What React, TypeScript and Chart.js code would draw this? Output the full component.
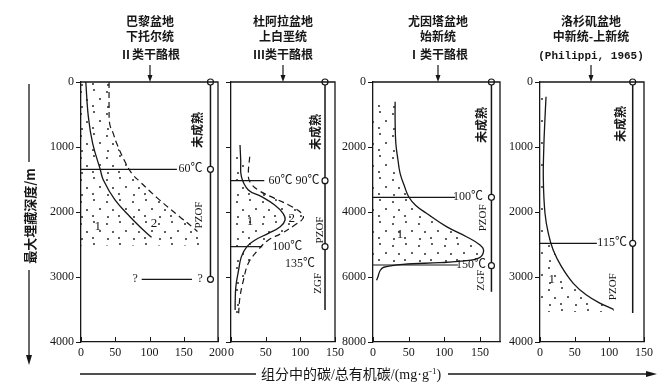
import React, { useEffect, useRef } from 'react';
import { Chart, registerables } from 'chart.js';
Chart.register(...registerables);

const INK = '#161616';
const CW = 672;
const CH = 385;
const SERIF = '"Liberation Serif", "Noto Sans CJK SC", serif';

// ---------- Panel 1: 巴黎盆地 下托尔统 II类干酪根 ----------
const p1XTicks = [0, 50, 100, 150, 200];
const p1YTicks = [0, 1000, 2000, 3000, 4000];
const p1SolidX = [7, 10.7, 17, 28, 32.6, 49.6, 71.5, 91, 103];
const p1SolidY = [0, 533, 943, 1343, 1508, 1815, 2072, 2277, 2390];
const p1DashX = [41, 41, 42, 47, 52, 63, 74, 86, 112, 144, 162, 170];
const p1DashY = [0, 400, 650, 790, 943, 1200, 1405, 1533, 1790, 2072, 2226, 2300];
const p1ShadeX = [...p1DashX, 176];
const p1ShadeY = [...p1DashY, 2520];
const p1CircX = [189, 189, 189];
const p1CircY = [0, 1343, 3035];

// ---------- Panel 2: 杜阿拉盆地 上白垩统 III类干酪根 ----------
const p2XTicks = [0, 50, 100, 150];
const p2YTicks = [0, 1000, 2000, 3000, 4000];
const p2SolidX = [13, 14, 15, 25, 44, 63, 75, 78, 71, 54, 35, 23, 15, 11, 7, 6, 6];
const p2SolidY = [969, 1200, 1457, 1661, 1764, 1892, 2020, 2123, 2226, 2328, 2430, 2533, 2687, 2892, 3149, 3405, 3508];
const p2DashX = [27, 25, 27, 39, 63, 88, 102, 104, 92, 73, 54, 39, 25, 18, 13, 11];
const p2DashY = [1149, 1405, 1530, 1661, 1790, 1918, 2020, 2097, 2200, 2328, 2430, 2585, 2790, 3046, 3303, 3559];
const p2ShadeX = [...p2DashX, 11];
const p2ShadeY = [...p2DashY, 3620];
const p2CircX = [135.6, 135.6, 135.6];
const p2CircY = [0, 1518, 2533];

// ---------- Panel 3: 尤因塔盆地 始新统 I类干酪根 ----------
const p3XTicks = [0, 50, 100, 150];
const p3YTicks = [0, 2000, 4000, 6000, 8000];
const p3SolidX = [31, 31, 32, 35, 38, 44, 50, 60, 75, 103, 131, 150, 155, 148, 120, 94, 42, 15, 10, 7, 5];
const p3SolidY = [606, 1200, 1887, 2400, 2810, 3200, 3530, 3800, 4040, 4451, 4760, 5015, 5200, 5420, 5520, 5560, 5610, 5700, 5800, 5990, 6100];
const p3ShadeX = p3SolidX.slice(0, 17);
const p3ShadeY = p3SolidY.slice(0, 17);
const p3CircX = [166, 166, 166];
const p3CircY = [0, 3548, 5650];

// ---------- Panel 4: 洛杉矶盆地 中新统-上新统 ----------
const p4XTicks = [0, 50, 100, 150];
const p4YTicks = [0, 1000, 2000, 3000, 4000];
const p4SolidX = [8.7, 7, 5.5, 4.8, 7.2, 12, 19, 31, 48, 67, 87, 106];
const p4SolidY = [226, 600, 1000, 1500, 2020, 2328, 2585, 2841, 3097, 3277, 3405, 3497];
const p4ShadeX = [...p4SolidX, 106];
const p4ShadeY = [...p4SolidY, 3540];
const p4CircX = [133.7, 133.7];
const p4CircY = [0, 2482];

type Txt = { t: string; x: number; y: number; rot?: boolean; size?: number; bold?: boolean };
type HLine = { x0: number; x1: number; y: number };
type PanelCfg = {
  padL: number;
  padR: number;
  xMax: number;
  yMax: number;
  xTicks: number[];
  yTicks: number[];
  yLabels: boolean;
  solid: [number[], number[]];
  dashed?: [number[], number[]];
  shade: [number[], number[]];
  hlines: HLine[];
  vline: { x: number; y0: number; y1: number };
  circles: [number[], number[]];
  texts: Txt[];
};

const panels: PanelCfg[] = [
  {
    padL: 41, padR: CW - 218, xMax: 200, yMax: 4000,
    xTicks: p1XTicks, yTicks: p1YTicks, yLabels: true,
    solid: [p1SolidX, p1SolidY], dashed: [p1DashX, p1DashY], shade: [p1ShadeX, p1ShadeY],
    hlines: [{ x0: 0, x1: 140, y: 1343 }, { x0: 88.6, x1: 162, y: 3035 }],
    vline: { x: 189, y0: 0, y1: 3035 },
    circles: [p1CircX, p1CircY],
    texts: [
      { t: '60℃', x: 160, y: 1343 },
      { t: '?', x: 79, y: 3035 },
      { t: '?', x: 174, y: 3035 },
      { t: '1', x: 24.5, y: 2226, size: 13 },
      { t: '2', x: 106.6, y: 2185, size: 13 },
      { t: '未成熟', x: 172.6, y: 738, rot: true, bold: true },
      { t: 'PZOF', x: 172.6, y: 2046, rot: true, size: 11 },
    ],
  },
  {
    padL: 191, padR: CW - 335, xMax: 150, yMax: 4000,
    xTicks: p2XTicks, yTicks: p2YTicks, yLabels: false,
    solid: [p2SolidX, p2SolidY], dashed: [p2DashX, p2DashY], shade: [p2ShadeX, p2ShadeY],
    hlines: [{ x0: 0, x1: 48, y: 1518 }, { x0: 0, x1: 45, y: 2533 }],
    vline: { x: 135.6, y0: 0, y1: 3508 },
    circles: [p2CircX, p2CircY],
    texts: [
      { t: '60℃ 90℃', x: 91, y: 1518 },
      { t: '100℃', x: 81, y: 2533 },
      { t: '135℃', x: 99.6, y: 2800 },
      { t: 'PZOF', x: 128, y: 2277, rot: true, size: 11 },
      { t: 'ZGF', x: 126, y: 3097, rot: true, size: 11 },
      { t: '未成熟', x: 124, y: 770, rot: true, bold: true },
      { t: '1', x: 27.4, y: 2150, size: 13 },
      { t: '2', x: 87.6, y: 2097, size: 13 },
    ],
  },
  {
    padL: 333, padR: CW - 500, xMax: 178, yMax: 8000,
    xTicks: p3XTicks, yTicks: p3YTicks, yLabels: true,
    solid: [p3SolidX, p3SolidY], shade: [p3ShadeX, p3ShadeY],
    hlines: [{ x0: 0, x1: 115, y: 3548 }, { x0: 0, x1: 119, y: 5630 }],
    vline: { x: 166, y0: 0, y1: 6450 },
    circles: [p3CircX, p3CircY],
    texts: [
      { t: '100℃', x: 133, y: 3548 },
      { t: '150℃', x: 137.5, y: 5630 },
      { t: 'PZOF', x: 155, y: 4180, rot: true, size: 11 },
      { t: 'ZGF', x: 152, y: 6100, rot: true, size: 11 },
      { t: '未成熟', x: 154, y: 1320, rot: true, bold: true },
      { t: '1', x: 38, y: 4710, size: 13 },
    ],
  },
  {
    padL: 500, padR: CW - 644, xMax: 150, yMax: 4000,
    xTicks: p4XTicks, yTicks: p4YTicks, yLabels: true,
    solid: [p4SolidX, p4SolidY], shade: [p4ShadeX, p4ShadeY],
    hlines: [{ x0: 0, x1: 82, y: 2482 }],
    vline: { x: 133.7, y0: 0, y1: 3554 },
    circles: [p4CircX, p4CircY],
    texts: [
      { t: '115℃', x: 104, y: 2482 },
      { t: 'PZOF', x: 106, y: 3150, rot: true, size: 11 },
      { t: '未成熟', x: 118, y: 646, rot: true, bold: true },
      { t: '1', x: 17, y: 3035, size: 13 },
    ],
  },
];

const pts = (xs: number[], ys: number[]) => xs.map((x, i) => ({ x, y: ys[i] }));

function makeDots(): CanvasPattern | string {
  const c = document.createElement('canvas');
  c.width = 26;
  c.height = 22;
  const g = c.getContext('2d');
  if (!g) return 'rgba(0,0,0,0.1)';
  g.fillStyle = '#1a1a1a';
  const dots = [[3, 4], [16, 2], [9, 12], [22, 11], [4, 19], [15, 18]];
  dots.forEach(([x, y]) => {
    g.beginPath();
    g.arc(x, y, 0.95, 0, Math.PI * 2);
    g.fill();
  });
  return g.createPattern(c, 'repeat') || 'rgba(0,0,0,0.1)';
}

function makeDeco(cfg: PanelCfg) {
  return {
    id: 'panelDeco',
    afterDraw(chart: any) {
      const { ctx, chartArea: a } = chart;
      const xs = chart.scales.x;
      const ys = chart.scales.y;
      ctx.save();
      ctx.strokeStyle = INK;
      ctx.lineWidth = 1.3;
      ctx.beginPath();
      ctx.moveTo(a.left, a.top);
      ctx.lineTo(a.right, a.top);
      ctx.lineTo(a.right, a.bottom);
      ctx.stroke();
      ctx.lineWidth = 1;
      ctx.beginPath();
      xs.ticks.forEach((t: any) => {
        const px = Math.round(xs.getPixelForValue(t.value)) + 0.5;
        ctx.moveTo(px, a.bottom);
        ctx.lineTo(px, a.bottom - 5);
      });
      ctx.stroke();
      ctx.fillStyle = INK;
      cfg.texts.forEach((tx) => {
        const px = xs.getPixelForValue(tx.x);
        const py = ys.getPixelForValue(tx.y);
        ctx.font = `${tx.bold ? 'bold ' : ''}${tx.size || 12}px ${SERIF}`;
        ctx.textAlign = 'center';
        ctx.textBaseline = 'middle';
        if (tx.rot) {
          ctx.save();
          ctx.translate(px, py);
          ctx.rotate(-Math.PI / 2);
          ctx.fillText(tx.t, 0, 0);
          ctx.restore();
        } else {
          ctx.fillText(tx.t, px, py);
        }
      });
      ctx.restore();
    },
  };
}

function Panel({ cfg }: { cfg: PanelCfg }) {
  const ref = useRef<HTMLCanvasElement | null>(null);
  useEffect(() => {
    if (!ref.current) return;
    const pattern = makeDots();
    const datasets: any[] = [
      {
        label: 'circles',
        data: pts(cfg.circles[0], cfg.circles[1]),
        showLine: false,
        pointRadius: 3,
        pointBackgroundColor: '#fff',
        pointBorderColor: INK,
        pointBorderWidth: 1.2,
        clip: false,
      },
      {
        label: 'maturity',
        data: [{ x: cfg.vline.x, y: cfg.vline.y0 }, { x: cfg.vline.x, y: cfg.vline.y1 }],
        borderColor: INK,
        borderWidth: 1.5,
        pointRadius: 0,
      },
      ...cfg.hlines.map((h, i) => ({
        label: 'temp' + i,
        data: [{ x: h.x0, y: h.y }, { x: h.x1, y: h.y }],
        borderColor: INK,
        borderWidth: 1.2,
        pointRadius: 0,
      })),
    ];
    if (cfg.dashed) {
      datasets.push({
        label: '2',
        data: pts(cfg.dashed[0], cfg.dashed[1]),
        borderColor: INK,
        borderWidth: 1.2,
        borderDash: [6, 4],
        pointRadius: 0,
        tension: 0.4,
      });
    }
    datasets.push({
      label: '1',
      data: pts(cfg.solid[0], cfg.solid[1]),
      borderColor: INK,
      borderWidth: 1.3,
      pointRadius: 0,
      tension: 0.4,
    });
    datasets.push({
      label: 'shade',
      data: pts(cfg.shade[0], cfg.shade[1]),
      borderWidth: 0,
      borderColor: 'rgba(0,0,0,0)',
      backgroundColor: pattern,
      fill: 'origin',
      pointRadius: 0,
      tension: 0.4,
    });
    const tickFont = { family: SERIF, size: 12 };
    const chart = new Chart(ref.current, {
      type: 'line',
      data: { datasets },
      options: {
        animation: false,
        responsive: false,
        indexAxis: 'y',
        events: [],
        layout: { padding: { left: cfg.padL, right: cfg.padR, top: 82, bottom: 23 } },
        plugins: { legend: { display: false }, tooltip: { enabled: false }, title: { display: false } },
        scales: {
          x: {
            type: 'linear',
            position: 'bottom',
            min: 0,
            max: cfg.xMax,
            afterBuildTicks: (s: any) => {
              s.ticks = cfg.xTicks.map((v) => ({ value: v }));
            },
            afterFit: (s: any) => {
              s.height = 20;
            },
            grid: { display: true, drawOnChartArea: false, drawTicks: false },
            border: { display: true, color: INK, width: 1.3 },
            ticks: { padding: 4, color: INK, font: tickFont, autoSkip: false, maxRotation: 0, callback: (v: any) => String(v) },
          },
          y: {
            type: 'linear',
            position: 'left',
            reverse: true,
            min: 0,
            max: cfg.yMax,
            afterBuildTicks: (s: any) => {
              s.ticks = cfg.yTicks.map((v) => ({ value: v }));
            },
            afterFit: (s: any) => {
              s.width = 40;
            },
            grid: { display: true, drawOnChartArea: false, drawTicks: true, tickLength: 5, color: INK, tickWidth: 1 },
            border: { display: true, color: INK, width: 1.3 },
            ticks: { display: cfg.yLabels, padding: 2, color: INK, font: tickFont, autoSkip: false, callback: (v: any) => String(v) },
          },
        },
      } as any,
      plugins: [makeDeco(cfg)],
    });
    return () => chart.destroy();
  }, [cfg]);
  return (
    <canvas
      ref={ref}
      width={CW}
      height={CH}
      style={{ position: 'absolute', left: 0, top: 0, width: CW, height: CH }}
    />
  );
}

const titles = [
  { x: 150, lines: ['巴黎盆地', '下托尔统', 'Ⅱ类干酪根'] },
  { x: 283, lines: ['杜阿拉盆地', '上白垩统', 'Ⅲ类干酪根'] },
  { x: 438, lines: ['尤因塔盆地', '始新统', 'Ⅰ类干酪根'] },
  { x: 591, lines: ['洛杉矶盆地', '中新统-上新统', '(Philippi, 1965)'] },
];

function Overlay() {
  const cjk = '"Noto Sans CJK SC", sans-serif';
  return (
    <svg
      width={CW}
      height={CH}
      style={{ position: 'absolute', left: 0, top: 0, pointerEvents: 'none' }}
    >
      {titles.map((t, i) => (
        <g key={i}>
          <text x={t.x} y={26} textAnchor="middle" fontSize={12} fontFamily={cjk} fontWeight="bold" fill={INK}>{t.lines[0]}</text>
          <text x={t.x} y={41} textAnchor="middle" fontSize={12} fontFamily={cjk} fontWeight="bold" fill={INK}>{t.lines[1]}</text>
          {i === 3 ? (
            <text x={t.x} y={59} textAnchor="middle" fontSize={11} fontFamily='"Liberation Mono", monospace' fontWeight="bold" fill={INK}>{t.lines[2]}</text>
          ) : (
            <text x={t.x} y={59} textAnchor="middle" fontSize={12} fontFamily={cjk} fontWeight="bold" fill={INK}>{t.lines[2]}</text>
          )}
          <line x1={t.x} y1={65} x2={t.x} y2={77} stroke={INK} strokeWidth={1.2} />
          <polygon points={`${t.x - 2.5},75 ${t.x + 2.5},75 ${t.x},82`} fill={INK} />
        </g>
      ))}
      {/* left axis title */}
      <line x1={29} y1={84} x2={29} y2={162} stroke={INK} strokeWidth={1.3} />
      <text
        transform="translate(29,216) rotate(-90)"
        textAnchor="middle"
        dominantBaseline="central"
        fontSize={13}
        fontFamily={cjk}
        fontWeight="bold"
        fill={INK}
      >
        最大埋藏深度/m
      </text>
      <line x1={29} y1={270} x2={29} y2={357} stroke={INK} strokeWidth={1.3} />
      <polygon points="26,355 32,355 29,365" fill={INK} />
      {/* bottom axis title */}
      <line x1={80} y1={374} x2={256} y2={374} stroke={INK} strokeWidth={1.3} />
      <text x={351} y={379} textAnchor="middle" fontSize={14} fontFamily={`"Liberation Serif", ${cjk}`} fill={INK}>
        组分中的碳/总有机碳/(mg·g<tspan fontSize={9} dy={-5}>-1</tspan><tspan dy={5}>)</tspan>
      </text>
      <line x1={448} y1={374} x2={648} y2={374} stroke={INK} strokeWidth={1.3} />
      <polygon points="646,371 646,377 657,374" fill={INK} />
    </svg>
  );
}

export default function App() {
  return (
    <div style={{ position: 'absolute', left: 0, top: 0, width: CW, height: CH, background: '#fff', overflow: 'hidden' }}>
      {panels.map((p, i) => (
        <Panel key={i} cfg={p} />
      ))}
      <Overlay />
    </div>
  );
}
